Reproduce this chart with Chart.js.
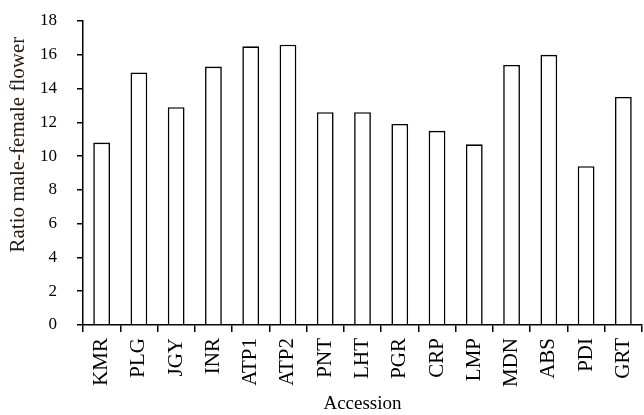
<!DOCTYPE html>
<html lang="en">
<head>
    <meta charset="UTF-8">
    <title>Ratio male-female flower by accession</title>
    <style>
        body, html {
            margin: 0;
            padding: 0;
            background: #ffffff;
        }
        .wrap {
            width: 644px;
            height: 415px;
        }
    </style>
</head>
<body>
    <div class="wrap">
        <canvas id="ratioChart" width="644" height="415"></canvas>
    </div>

    <script src="https://cdn.jsdelivr.net/npm/chart.js"></script>
    <script>
        const accessions = ['KMR', 'PLG', 'JGY', 'INR', 'ATP1', 'ATP2', 'PNT', 'LHT', 'PGR', 'CRP', 'LMP', 'MDN', 'ABS', 'PDI', 'GRT'];
        const ratios = [10.8, 14.95, 12.9, 15.3, 16.5, 16.6, 12.6, 12.6, 11.9, 11.5, 10.7, 15.4, 16.0, 9.4, 13.5];
        const yTicks = [0, 2, 4, 6, 8, 10, 12, 14, 16, 18];

        const serif = "'Liberation Serif', 'Times New Roman', serif";

        new Chart(document.getElementById('ratioChart').getContext('2d'), {
            type: 'bar',
            data: {
                labels: accessions,
                datasets: [{
                    data: ratios,
                    backgroundColor: '#ffffff',
                    borderColor: '#000000',
                    borderWidth: 1.6,
                    barPercentage: 0.45,
                    categoryPercentage: 1
                }]
            },
            options: {
                responsive: false,
                animation: false,
                layout: {
                    padding: { top: 21, right: 2, left: 0, bottom: 0 }
                },
                plugins: {
                    legend: { display: false },
                    tooltip: { enabled: false }
                },
                scales: {
                    x: {
                        offset: true,
                        afterFit: function(scale) {
                            scale.height = 90;
                            scale.paddingLeft = 0;
                            scale.paddingRight = 0;
                        },
                        grid: {
                            offset: true,
                            drawOnChartArea: false,
                            drawTicks: true,
                            tickLength: 7,
                            color: '#000000',
                            lineWidth: 1.5
                        },
                        border: { color: '#000000', width: 1.5 },
                        ticks: {
                            color: '#000000',
                            minRotation: 90,
                            maxRotation: 90,
                            padding: 6,
                            font: { family: serif, size: 21 }
                        },
                        title: {
                            display: true,
                            text: 'Accession',
                            color: '#000000',
                            padding: { top: 0, bottom: 0 },
                            font: { family: serif, size: 19 }
                        }
                    },
                    y: {
                        min: 0,
                        max: 18,
                        afterBuildTicks: function(axis) {
                            axis.ticks = yTicks.map(v => ({ value: v }));
                        },
                        afterFit: function(scale) {
                            scale.width = 83;
                            scale.paddingTop = 0;
                            scale.paddingBottom = 0;
                        },
                        grid: {
                            drawOnChartArea: false,
                            drawTicks: true,
                            tickLength: 6,
                            color: '#000000',
                            lineWidth: 1.5
                        },
                        border: { color: '#000000', width: 1.5 },
                        ticks: {
                            color: '#000000',
                            padding: 20,
                            font: { family: serif, size: 17 }
                        },
                        title: {
                            display: true,
                            text: 'Ratio male-female flower   ',
                            align: 'end',
                            color: '#2a1a10',
                            padding: { top: 6, bottom: 0 },
                            font: { family: serif, size: 21 }
                        }
                    }
                }
            }
        });
    </script>
</body>
</html>
